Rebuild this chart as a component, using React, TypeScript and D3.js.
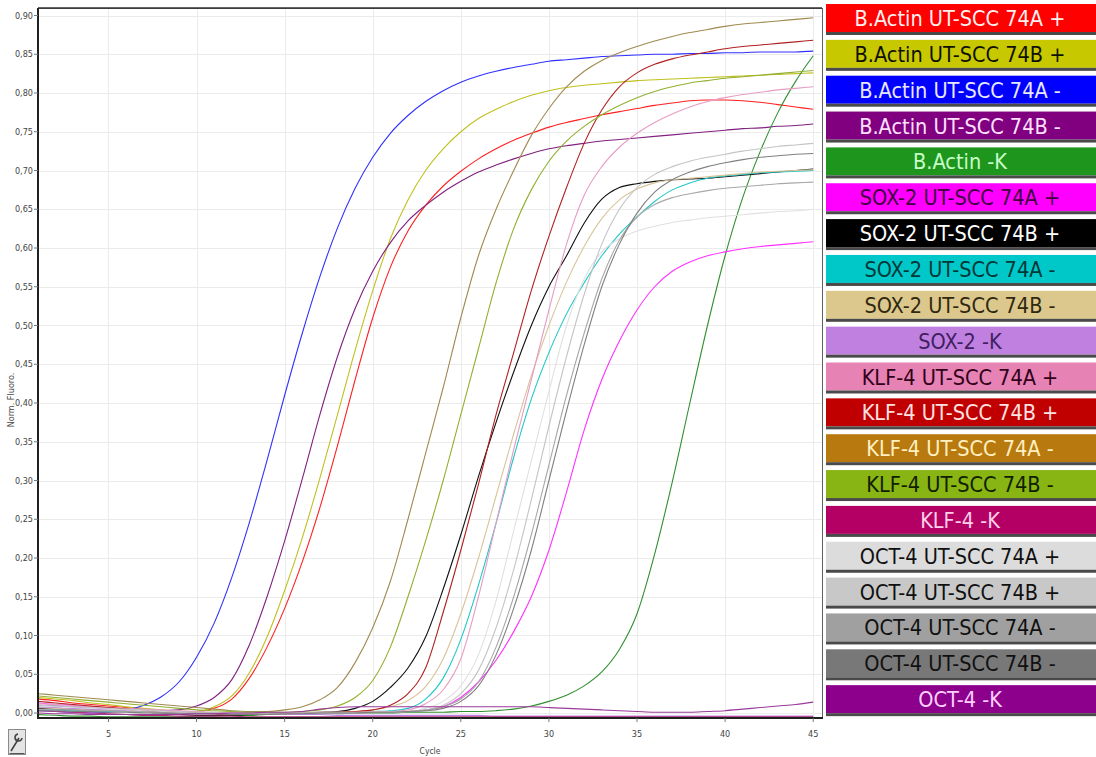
import React from 'react';
import * as d3 from 'd3';

// cycle numbers on the x axis
const cycles = [1, 2, 3, 4, 5, 6, 7, 8, 9, 10, 11, 12, 13, 14, 15, 16, 17, 18, 19, 20, 21, 22, 23, 24, 25, 26, 27, 28, 29, 30, 31, 32, 33, 34, 35, 36, 37, 38, 39, 40, 41, 42, 43, 44, 45];
const xTickValues = [5, 10, 15, 20, 25, 30, 35, 40, 45];
const yTickValues = [0, 0.05, 0.1, 0.15, 0.2, 0.25, 0.3, 0.35, 0.4, 0.45, 0.5, 0.55, 0.6, 0.65, 0.7, 0.75, 0.8, 0.85, 0.9];

const sampleNames = [
  'B.Actin UT-SCC 74A +', 'B.Actin UT-SCC 74B +', 'B.Actin UT-SCC 74A -', 'B.Actin UT-SCC 74B -', 'B.Actin -K',
  'SOX-2 UT-SCC 74A +', 'SOX-2 UT-SCC 74B +', 'SOX-2 UT-SCC 74A -', 'SOX-2 UT-SCC 74B -', 'SOX-2 -K',
  'KLF-4 UT-SCC 74A +', 'KLF-4 UT-SCC 74B +', 'KLF-4 UT-SCC 74A -', 'KLF-4 UT-SCC 74B -', 'KLF-4 -K',
  'OCT-4 UT-SCC 74A +', 'OCT-4 UT-SCC 74B +', 'OCT-4 UT-SCC 74A -', 'OCT-4 UT-SCC 74B -', 'OCT-4 -K',
];

// normalised fluorescence, one value per cycle
const bActin74APos = [0.018, 0.016, 0.013, 0.011, 0.009, 0.007, 0.005, 0.003, 0.002, 0.002, 0.006, 0.018, 0.045, 0.085, 0.135, 0.195, 0.265, 0.345, 0.43, 0.51, 0.575, 0.622, 0.655, 0.68, 0.699, 0.715, 0.728, 0.739, 0.748, 0.756, 0.762, 0.767, 0.772, 0.776, 0.78, 0.784, 0.787, 0.79, 0.791, 0.791, 0.79, 0.788, 0.785, 0.782, 0.779];
const bActin74BPos = [0.02, 0.018, 0.016, 0.013, 0.011, 0.008, 0.006, 0.004, 0.002, 0.002, 0.008, 0.022, 0.052, 0.098, 0.158, 0.226, 0.303, 0.385, 0.468, 0.545, 0.612, 0.662, 0.7, 0.728, 0.75, 0.767, 0.779, 0.789, 0.797, 0.803, 0.807, 0.81, 0.812, 0.814, 0.816, 0.817, 0.818, 0.819, 0.82, 0.821, 0.822, 0.823, 0.824, 0.825, 0.826];
const bActin74ANeg = [0.003, 0.002, 0.001, 0.0, 0.001, 0.004, 0.01, 0.021, 0.04, 0.072, 0.116, 0.175, 0.246, 0.326, 0.41, 0.49, 0.563, 0.626, 0.677, 0.717, 0.748, 0.771, 0.789, 0.803, 0.814, 0.822, 0.828, 0.833, 0.837, 0.841, 0.843, 0.845, 0.847, 0.848, 0.849, 0.85, 0.85, 0.851, 0.851, 0.852, 0.852, 0.853, 0.853, 0.853, 0.854];
const bActin74BNeg = [0.01, 0.009, 0.008, 0.006, 0.005, 0.004, 0.003, 0.003, 0.004, 0.009, 0.02, 0.043, 0.088, 0.15, 0.222, 0.302, 0.385, 0.46, 0.522, 0.57, 0.607, 0.635, 0.655, 0.672, 0.686, 0.698, 0.707, 0.715, 0.722, 0.728, 0.732, 0.735, 0.738, 0.74, 0.742, 0.744, 0.746, 0.748, 0.75, 0.752, 0.754, 0.755, 0.757, 0.758, 0.76];
const bActinK = [-0.002, -0.003, -0.004, -0.004, -0.005, -0.005, -0.005, -0.005, -0.005, -0.004, -0.004, -0.003, -0.003, -0.002, -0.002, -0.002, -0.001, -0.001, 0.0, 0.0, 0.0, 0.001, 0.001, 0.001, 0.002, 0.002, 0.003, 0.005, 0.009, 0.015, 0.023, 0.035, 0.053, 0.082, 0.128, 0.205, 0.298, 0.4, 0.5, 0.59, 0.665, 0.725, 0.775, 0.815, 0.848];
const sox74APos = [0.013, 0.011, 0.01, 0.008, 0.007, 0.005, 0.004, 0.003, 0.002, 0.001, 0.0, 0.0, -0.001, -0.001, -0.001, -0.001, 0.0, 0.0, 0.0, 0.001, 0.001, 0.002, 0.004, 0.008, 0.02, 0.04, 0.068, 0.105, 0.15, 0.21, 0.285, 0.365, 0.43, 0.48, 0.52, 0.55, 0.57, 0.582, 0.59, 0.595, 0.599, 0.602, 0.604, 0.606, 0.608];
const sox74BPos = [0.006, 0.005, 0.004, 0.004, 0.003, 0.002, 0.001, 0.0, -0.002, -0.003, -0.003, -0.003, -0.002, -0.002, -0.001, 0.0, 0.001, 0.002, 0.006, 0.015, 0.033, 0.058, 0.098, 0.16, 0.23, 0.305, 0.375, 0.44, 0.5, 0.55, 0.59, 0.632, 0.663, 0.678, 0.683, 0.686, 0.688, 0.689, 0.69, 0.692, 0.694, 0.696, 0.698, 0.7, 0.702];
const sox74ANeg = [0.004, 0.004, 0.003, 0.003, 0.002, 0.002, 0.001, 0.001, 0.0, 0.0, 0.0, -0.001, -0.001, -0.001, 0.0, 0.0, 0.0, 0.001, 0.001, 0.002, 0.003, 0.006, 0.018, 0.045, 0.095, 0.165, 0.245, 0.33, 0.405, 0.465, 0.515, 0.555, 0.59, 0.618, 0.64, 0.66, 0.675, 0.684, 0.69, 0.693, 0.695, 0.697, 0.698, 0.699, 0.7];
const sox74BNeg = [0.007, 0.006, 0.005, 0.004, 0.003, 0.002, 0.001, 0.0, 0.0, -0.001, -0.001, -0.001, -0.001, 0.0, 0.0, 0.0, 0.001, 0.001, 0.002, 0.004, 0.008, 0.016, 0.034, 0.07, 0.128, 0.2, 0.28, 0.36, 0.435, 0.5, 0.556, 0.602, 0.638, 0.662, 0.676, 0.684, 0.688, 0.69, 0.692, 0.694, 0.696, 0.698, 0.699, 0.7, 0.701];
const soxK = [0.008, 0.007, 0.006, 0.005, 0.004, 0.003, 0.002, 0.001, 0.0, -0.001, -0.001, -0.002, -0.002, -0.002, -0.002, -0.002, -0.002, -0.003, -0.003, -0.003, -0.003, -0.003, -0.003, -0.003, -0.003, -0.003, -0.004, -0.004, -0.004, -0.004, -0.004, -0.004, -0.004, -0.004, -0.004, -0.004, -0.004, -0.004, -0.004, -0.004, -0.004, -0.004, -0.004, -0.004, -0.004];
const klf74APos = [0.012, 0.011, 0.01, 0.008, 0.007, 0.006, 0.005, 0.004, 0.003, 0.002, 0.001, 0.0, 0.0, 0.0, 0.0, 0.0, 0.001, 0.001, 0.001, 0.002, 0.002, 0.004, 0.012, 0.03, 0.07, 0.15, 0.245, 0.34, 0.43, 0.52, 0.605, 0.668, 0.705, 0.73, 0.748, 0.762, 0.773, 0.782, 0.789, 0.794, 0.798, 0.801, 0.804, 0.806, 0.808];
const klf74BPos = [0.015, 0.013, 0.011, 0.009, 0.007, 0.005, 0.003, 0.002, 0.001, 0.0, -0.001, -0.002, -0.002, -0.001, -0.001, 0.0, 0.0, 0.001, 0.002, 0.004, 0.01, 0.025, 0.058, 0.13, 0.21, 0.295, 0.385, 0.465, 0.545, 0.615, 0.678, 0.735, 0.778, 0.808, 0.826, 0.837, 0.844, 0.849, 0.853, 0.857, 0.86, 0.862, 0.864, 0.866, 0.868];
const klf74ANeg = [0.025, 0.023, 0.021, 0.019, 0.017, 0.015, 0.013, 0.011, 0.009, 0.007, 0.005, 0.003, 0.002, 0.002, 0.004, 0.008, 0.017, 0.033, 0.065, 0.11, 0.17, 0.25, 0.335, 0.42, 0.51, 0.59, 0.65, 0.7, 0.745, 0.78, 0.808, 0.828, 0.842, 0.852, 0.86, 0.867, 0.873, 0.878, 0.882, 0.886, 0.889, 0.891, 0.893, 0.895, 0.897];
const klf74BNeg = [0.022, 0.02, 0.018, 0.016, 0.014, 0.012, 0.01, 0.008, 0.006, 0.004, 0.003, 0.002, 0.001, 0.001, 0.001, 0.002, 0.004, 0.009, 0.02, 0.042, 0.085, 0.15, 0.222, 0.3, 0.385, 0.47, 0.555, 0.625, 0.675, 0.712, 0.738, 0.757, 0.772, 0.784, 0.794, 0.802, 0.808, 0.813, 0.816, 0.819, 0.821, 0.823, 0.825, 0.827, 0.829];
const klfK = [0.003, 0.002, 0.001, 0.0, -0.001, -0.002, -0.003, -0.003, -0.004, -0.004, -0.004, -0.004, -0.005, -0.005, -0.005, -0.005, -0.005, -0.005, -0.005, -0.005, -0.005, -0.005, -0.005, -0.005, -0.005, -0.005, -0.005, -0.005, -0.005, -0.005, -0.005, -0.005, -0.005, -0.005, -0.005, -0.005, -0.005, -0.005, -0.005, -0.005, -0.005, -0.005, -0.005, -0.005, -0.005];
const oct74APos = [0.009, 0.008, 0.007, 0.006, 0.005, 0.004, 0.003, 0.002, 0.001, 0.0, 0.0, -0.001, -0.001, -0.001, 0.0, 0.0, 0.0, 0.0, 0.001, 0.001, 0.001, 0.002, 0.006, 0.015, 0.035, 0.075, 0.145, 0.235, 0.325, 0.415, 0.5, 0.56, 0.595, 0.612, 0.622, 0.628, 0.633, 0.636, 0.639, 0.641, 0.643, 0.645, 0.647, 0.648, 0.65];
const oct74BPos = [0.01, 0.009, 0.008, 0.007, 0.006, 0.005, 0.004, 0.003, 0.002, 0.001, 0.0, 0.0, -0.001, -0.001, -0.001, 0.0, 0.0, 0.0, 0.0, 0.001, 0.001, 0.002, 0.004, 0.01, 0.025, 0.055, 0.11, 0.185, 0.275, 0.37, 0.46, 0.54, 0.605, 0.65, 0.678, 0.695, 0.705, 0.712, 0.717, 0.721, 0.725, 0.728, 0.731, 0.733, 0.735];
const oct74ANeg = [0.005, 0.004, 0.004, 0.003, 0.003, 0.002, 0.002, 0.001, 0.0, 0.0, 0.0, -0.001, -0.001, -0.001, -0.001, 0.0, 0.0, 0.0, 0.0, 0.001, 0.001, 0.002, 0.004, 0.008, 0.018, 0.04, 0.085, 0.15, 0.23, 0.32, 0.41, 0.49, 0.56, 0.61, 0.64, 0.656, 0.665, 0.67, 0.674, 0.677, 0.679, 0.681, 0.683, 0.684, 0.685];
const oct74BNeg = [0.003, 0.003, 0.002, 0.002, 0.001, 0.001, 0.0, 0.0, -0.001, -0.001, -0.001, -0.002, -0.002, -0.002, -0.001, -0.001, 0.0, 0.0, 0.0, 0.001, 0.001, 0.002, 0.003, 0.006, 0.015, 0.035, 0.075, 0.135, 0.21, 0.3, 0.39, 0.475, 0.55, 0.605, 0.645, 0.672, 0.688, 0.698, 0.705, 0.71, 0.714, 0.717, 0.719, 0.721, 0.722];
const octK = [0.0, -0.001, -0.001, -0.002, -0.002, -0.002, -0.002, -0.002, -0.002, -0.001, -0.001, 0.0, 0.0, 0.001, 0.001, 0.002, 0.005, 0.007, 0.008, 0.008, 0.008, 0.008, 0.008, 0.008, 0.008, 0.008, 0.008, 0.008, 0.008, 0.007, 0.006, 0.005, 0.004, 0.003, 0.002, 0.001, 0.001, 0.001, 0.002, 0.003, 0.005, 0.007, 0.009, 0.011, 0.014];

const seriesValues = [
  bActin74APos, bActin74BPos, bActin74ANeg, bActin74BNeg, bActinK,
  sox74APos, sox74BPos, sox74ANeg, sox74BNeg, soxK,
  klf74APos, klf74BPos, klf74ANeg, klf74BNeg, klfK,
  oct74APos, oct74BPos, oct74ANeg, oct74BNeg, octK,
];

const bandColors = [
  '#ff0000', '#c8c800', '#0000ff', '#800080', '#1e961e',
  '#ff00ff', '#000000', '#00c8c8', '#dcc88c', '#c080e0',
  '#e682b4', '#c00000', '#b87a0e', '#88b414', '#b40064',
  '#dcdcdc', '#c8c8c8', '#a0a0a0', '#787878', '#8c008c',
];
const textColors = [
  '#fff0f0', '#101000', '#e8e8ff', '#ffe0ff', '#c8ffc8',
  '#400040', '#ffffff', '#003838', '#302810', '#402060',
  '#300018', '#ffe0e0', '#fff0c0', '#102000', '#ffd0e8',
  '#101010', '#101010', '#101010', '#101010', '#ffd0ff',
];
const lineColors = [
  '#ff2020', '#c0c020', '#3030ff', '#802080', '#309030',
  '#ff30ff', '#101010', '#20c8c8', '#d8c49a', '#c080e0',
  '#e89cc4', '#b02020', '#a08a50', '#90b030', '#b4307a',
  '#e0e0e0', '#c4c4c4', '#a8a8a8', '#808080', '#9a3a9a',
];

const W = 1096;
const H = 757;
const plotLeft = 38;
const plotRight = 822;
const plotTop = 8;
const plotBottom = 718;

const fmtY = (v: number) => d3.format('.2f')(v).replace('.', ',');

export default function App() {
  const x = d3.scaleLinear().domain([1, 45.5]).range([plotLeft, plotRight]);
  const y = d3.scaleLinear().domain([0, 0.9]).range([713, 15.5]);

  const line = d3.line<number>()
    .x((_, i) => x(cycles[i]))
    .y((d) => y(d))
    .curve(d3.curveMonotoneX);

  const rowH = 35.85;
  const axisFont = "'DejaVu Sans Condensed', 'Liberation Sans Narrow', sans-serif";

  return (
    <div style={{ position: 'absolute', left: 0, top: 0, width: W, height: H, background: '#fff' }}>
      <svg width={W} height={H} style={{ display: 'block' }}>
        <defs>
          <clipPath id="plot-clip">
            <rect x={plotLeft + 1} y={plotTop + 1} width={plotRight - plotLeft - 1} height={plotBottom - plotTop - 1} />
          </clipPath>
        </defs>

        {/* grid */}
        <g stroke="#ebebeb" strokeWidth={1}>
          {yTickValues.map((t) => (
            <line key={'gy' + t} x1={plotLeft} x2={plotRight} y1={Math.round(y(t)) + 0.5} y2={Math.round(y(t)) + 0.5} />
          ))}
          {xTickValues.map((t) => (
            <line key={'gx' + t} x1={Math.round(x(t)) + 0.5} x2={Math.round(x(t)) + 0.5} y1={plotTop} y2={plotBottom} />
          ))}
        </g>

        {/* curves */}
        <g clipPath="url(#plot-clip)" fill="none" strokeWidth={1.1}>
          {seriesValues.map((vals, i) => (
            <path key={sampleNames[i]} d={line(vals) || ''} stroke={lineColors[i]} />
          ))}
        </g>

        {/* frame */}
        <rect x={plotLeft + 0.5} y={plotTop + 0.5} width={plotRight - plotLeft} height={plotBottom - plotTop} fill="none" stroke="#606060" strokeWidth={1} />
        <line x1={plotLeft} x2={plotLeft} y1={plotTop} y2={plotBottom + 1} stroke="#202020" strokeWidth={2} />
        <line x1={plotLeft - 1} x2={plotRight + 1} y1={plotBottom} y2={plotBottom} stroke="#202020" strokeWidth={2} />
        <line x1={plotLeft} x2={plotRight} y1={plotTop} y2={plotTop} stroke="#303030" strokeWidth={1.5} />

        {/* y axis */}
        <g fontFamily={axisFont} fontSize={9} fill="#444">
          {yTickValues.map((t) => (
            <g key={'ty' + t}>
              <line x1={plotLeft - 4} x2={plotLeft} y1={y(t)} y2={y(t)} stroke="#777" />
              <text x={plotLeft - 5} y={y(t) + 3} textAnchor="end">{fmtY(t)}</text>
            </g>
          ))}
        </g>
        <text transform="translate(14,400) rotate(-90)" textAnchor="middle" fontFamily={axisFont} fontSize={9} fill="#444">Norm. Fluoro.</text>

        {/* x axis */}
        <g fontFamily={axisFont} fontSize={9} fill="#444">
          {xTickValues.map((t) => (
            <g key={'tx' + t}>
              <line x1={x(t)} x2={x(t)} y1={plotBottom} y2={plotBottom + 4} stroke="#777" />
              <text x={x(t)} y={737} textAnchor="middle">{t}</text>
            </g>
          ))}
        </g>
        <text x={430} y={754} textAnchor="middle" fontFamily={axisFont} fontSize={8.5} fill="#444">Cycle</text>

        {/* tool button */}
        <g>
          <rect x={8.5} y={729.5} width={17} height={25} fill="#e4e4e4" stroke="#8a8a8a" />
          <line x1={9.5} x2={24.5} y1={753.5} y2={753.5} stroke="#555" />
          <path d="M11,751 L19,738 M18,734 a3.5,3.5 0 1 0 4,4" stroke="#444" strokeWidth={1.6} fill="none" />
        </g>

        {/* legend */}
        <g fontFamily={axisFont} fontSize={21.5}>
          {sampleNames.map((name, i) => {
            const top = 4 + i * rowH;
            return (
              <g key={'lg' + name}>
                <rect x={826} y={top} width={W - 826} height={28} fill={bandColors[i]} />
                <rect x={826} y={top + 28} width={W - 826} height={3} fill="#4a4a4a" />
                <text x={960} y={top + 22} textAnchor="middle" fill={textColors[i]}>{name}</text>
              </g>
            );
          })}
        </g>
      </svg>
    </div>
  );
}
